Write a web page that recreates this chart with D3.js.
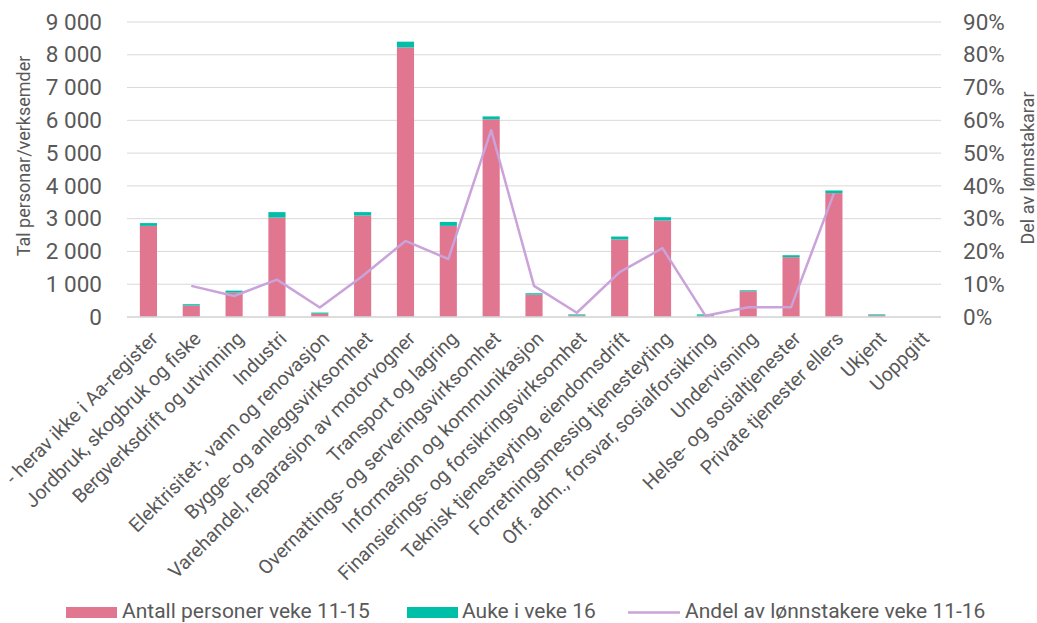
<!DOCTYPE html>
<html>
<head>
<meta charset="utf-8">
<script src="https://cdn.jsdelivr.net/npm/d3@7"></script>
<style>
  body { margin: 0; background: #fff; }
  text { font-family: Roboto, "Noto Sans", sans-serif; fill: #595959; }
</style>
</head>
<body>
<div id="chart"></div>
<script>
var categories = [
  "- herav ikke i Aa-register",
  "Jordbruk, skogbruk og fiske",
  "Bergverksdrift og utvinning",
  "Industri",
  "Elektrisitet-, vann og renovasjon",
  "Bygge- og anleggsvirksomhet",
  "Varehandel, reparasjon av motorvogner",
  "Transport og lagring",
  "Overnattings- og serveringsvirksomhet",
  "Informasjon og kommunikasjon",
  "Finansierings- og forsikringsvirksomhet",
  "Teknisk tjenesteyting, eiendomsdrift",
  "Forretningsmessig tjenesteyting",
  "Off. adm., forsvar, sosialforsikring",
  "Undervisning",
  "Helse- og sosialtjenester",
  "Private tjenester ellers",
  "Ukjent",
  "Uoppgitt"
];

// Antall personer veke 11-15
var personer = [2780, 350, 745, 3035, 100, 3095, 8225, 2780, 6030, 685, 50, 2365, 2945, 40, 785, 1825, 3780, 50, 0];
// Auke i veke 16
var auke = [85, 40, 60, 165, 35, 105, 175, 120, 90, 40, 30, 90, 100, 40, 30, 60, 80, 30, 0];
// Andel av lønnstakere veke 11-16 (%)
var andel = [null, 9.5, 6.4, 11.4, 2.9, 12.5, 23.2, 17.7, 57, 9.5, 1.3, 13.7, 21, 0.4, 3.0, 3.0, 37.7, null, null];

var leftTicks = [0, 1000, 2000, 3000, 4000, 5000, 6000, 7000, 8000, 9000];
var rightTicks = [0, 10, 20, 30, 40, 50, 60, 70, 80, 90];

var svgWidth = 1037;
var svgHeight = 623;

var margin = { top: 22, right: 96, bottom: 306, left: 127 };
var width = svgWidth - margin.left - margin.right;
var height = svgHeight - margin.top - margin.bottom;

var pink = "#e07690";
var teal = "#00bfa8";
var purple = "#c9a3da";

var svg = d3.select("#chart")
  .append("svg")
  .attr("width", svgWidth)
  .attr("height", svgHeight);

var chartGroup = svg.append("g")
  .attr("transform", `translate(${margin.left}, ${margin.top})`);

var xScale = d3.scaleBand()
  .domain(categories)
  .range([0, width])
  .paddingInner(0.6)
  .paddingOuter(0.3);

var yLeft = d3.scaleLinear().domain([0, 9000]).range([height, 0]);
var yRight = d3.scaleLinear().domain([0, 90]).range([height, 0]);

var nf = d3.formatLocale({ decimal: ",", thousands: "\u00a0", grouping: [3], currency: ["", ""] }).format(",d");

// gridlines
chartGroup.append("g")
  .selectAll("line")
  .data(leftTicks)
  .enter()
  .append("line")
  .attr("x1", 0)
  .attr("x2", width)
  .attr("y1", d => yLeft(d))
  .attr("y2", d => yLeft(d))
  .attr("stroke", "#d9d9d9")
  .attr("stroke-width", 1);

// axis labels
var leftAxis = d3.axisLeft(yLeft).tickValues(leftTicks).tickFormat(nf).tickSize(0).tickPadding(25);
var gl = chartGroup.append("g").call(leftAxis);
gl.select(".domain").remove();
gl.selectAll("text").style("font-size", "22.5px").style("fill", "#595959").style("font-family", "Roboto");

var rightAxis = d3.axisRight(yRight).tickValues(rightTicks).tickFormat(d => d + "%").tickSize(0).tickPadding(22);
var gr = chartGroup.append("g").attr("transform", `translate(${width}, 0)`).call(rightAxis);
gr.select(".domain").remove();
gr.selectAll("text").style("font-size", "22.5px").style("fill", "#595959").style("font-family", "Roboto");

// stacked bars
var barData = categories.map((c, i) => ({ cat: c, p: personer[i], a: auke[i] }));

chartGroup.append("g")
  .selectAll("rect")
  .data(barData)
  .enter()
  .append("rect")
  .attr("x", d => xScale(d.cat))
  .attr("width", xScale.bandwidth())
  .attr("y", d => yLeft(d.p))
  .attr("height", d => height - yLeft(d.p))
  .attr("fill", pink);

chartGroup.append("g")
  .selectAll("rect")
  .data(barData)
  .enter()
  .append("rect")
  .attr("x", d => xScale(d.cat))
  .attr("width", xScale.bandwidth())
  .attr("y", d => yLeft(d.p + d.a))
  .attr("height", d => yLeft(d.p) - yLeft(d.p + d.a))
  .attr("fill", teal);

// axis baseline
chartGroup.append("line")
  .attr("x1", 0).attr("x2", width)
  .attr("y1", height).attr("y2", height)
  .attr("stroke", "#d9d9d9").attr("stroke-width", 1.5);

// line
var lineData = categories.map((c, i) => ({ cat: c, v: andel[i] }));
var line = d3.line()
  .defined(d => d.v !== null)
  .x(d => xScale(d.cat) + xScale.bandwidth() / 2)
  .y(d => yRight(d.v));

chartGroup.append("path")
  .datum(lineData)
  .attr("d", line)
  .attr("fill", "none")
  .attr("stroke", purple)
  .attr("stroke-width", 2.5)
  .attr("stroke-linejoin", "round");

// category labels
chartGroup.append("g")
  .selectAll("text")
  .data(categories)
  .enter()
  .append("text")
  .attr("transform", d => `translate(${xScale(d) + xScale.bandwidth() / 2 + 6}, ${height + 18}) rotate(-45)`)
  .attr("text-anchor", "end")
  .attr("dy", "0.35em")
  .style("font-size", "19.5px")
  .text(d => d);

// axis titles
svg.append("text")
  .attr("transform", `translate(30, 156) rotate(-90)`)
  .attr("text-anchor", "middle")
  .style("font-size", "18px")
  .text("Tal personar/verksemder");

svg.append("text")
  .attr("transform", `translate(1034, 168) rotate(-90)`)
  .attr("text-anchor", "middle")
  .style("font-size", "18px")
  .text("Del av lønnstakarar");

// legend
var legend = svg.append("g").attr("transform", "translate(0, 611)");
legend.append("rect").attr("x", 66).attr("y", -4).attr("width", 51).attr("height", 11).attr("fill", pink);
legend.append("text").attr("x", 122).attr("y", 0).attr("dy", "0.35em").style("font-size", "21px").text("Antall personer veke 11-15");
legend.append("rect").attr("x", 407).attr("y", -4).attr("width", 51).attr("height", 11).attr("fill", teal);
legend.append("text").attr("x", 462).attr("y", 0).attr("dy", "0.35em").style("font-size", "21px").text("Auke i veke 16");
legend.append("line").attr("x1", 628).attr("x2", 680).attr("y1", 1.5).attr("y2", 1.5).attr("stroke", purple).attr("stroke-width", 2.5);
legend.append("text").attr("x", 685).attr("y", 0).attr("dy", "0.35em").style("font-size", "21px").text("Andel av lønnstakere veke 11-16");
</script>
</body>
</html>
